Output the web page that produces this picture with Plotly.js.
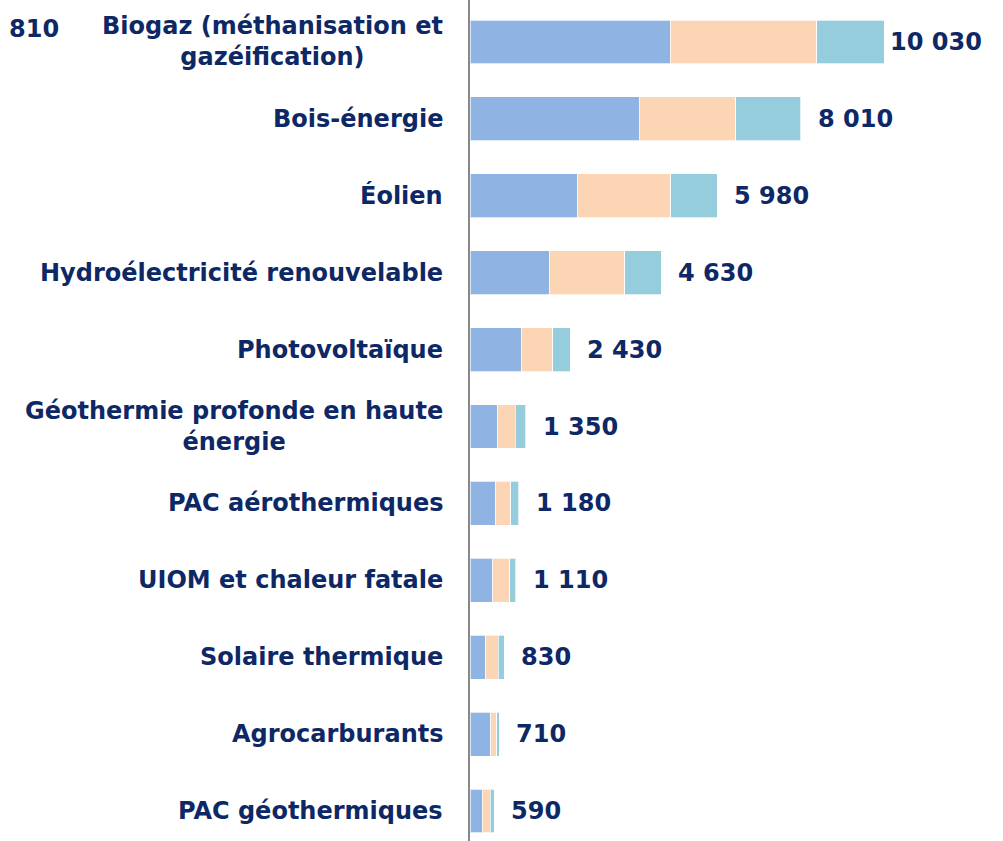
<!DOCTYPE html>
<html>
<head>
<meta charset="utf-8">
<script src="https://cdn.plot.ly/plotly-3.0.1.min.js"></script>
<style>html,body{margin:0;padding:0;background:#fff;}#chart{width:1003px;height:841px;}</style>
</head>
<body>
<div id="chart"></div>
<script>
// Categories from bottom to top
const categories = [
  "PAC géothermiques",
  "Agrocarburants",
  "Solaire thermique",
  "UIOM et chaleur fatale",
  "PAC aérothermiques",
  "Géothermie profonde en haute<br>énergie",
  "Photovoltaïque",
  "Hydroélectricité renouvelable",
  "Éolien",
  "Bois-énergie",
  "Biogaz (méthanisation et<br>gazéification)"
];
const seriesBlue  = [300, 500, 380, 550, 620, 670, 1250, 1920, 2600, 4100, 4850];
const seriesPeach = [190, 150, 300, 410, 370, 430, 750, 1830, 2260, 2330, 3540];
const seriesTeal  = [100, 60, 150, 150, 190, 250, 430, 880, 1120, 1580, 1640];
const totals      = [590, 710, 830, 1110, 1180, 1350, 2430, 4630, 5980, 8010, 10030];
const strayLabel  = "810";

const navy = "#0e2865";
const fontFam = "DejaVu Sans, Verdana, sans-serif";
const fsize = 24;
const idx = categories.map((c, i) => i);

function fmt(n) {
  return String(n).replace(/\B(?=(\d{3})+(?!\d))/g, " ");
}

const mk = (vals, color) => ({
  type: "bar", orientation: "h", y: idx, x: vals,
  marker: {color: color, line: {color: "rgba(255,255,255,0.7)", width: 1}},
  hoverinfo: "x", showlegend: false
});

const data = [
  mk(seriesBlue, "#8fb4e3"),
  mk(seriesPeach, "#fcd5b5"),
  mk(seriesTeal, "#95cddd")
];

const annotations = [];
categories.forEach((c, i) => {
  annotations.push({
    xref: "paper", yref: "y", x: 0, y: i, xanchor: "right", yanchor: "middle",
    xshift: -25, align: "center", showarrow: false, text: "<b>" + c + "</b>",
    font: {family: fontFam, size: fsize, color: navy}
  });
  annotations.push({
    xref: "x", yref: "y", x: totals[i], y: i, xanchor: "left", yanchor: "middle",
    xshift: i === categories.length - 1 ? 4 : 15, showarrow: false, text: "<b>" + fmt(totals[i]) + "</b>",
    font: {family: fontFam, size: fsize, color: navy}
  });
});
annotations.push({
  xref: "paper", yref: "y", x: 0, y: categories.length - 1, xanchor: "left", yanchor: "middle",
  xshift: -463, yshift: 13, showarrow: false, text: "<b>" + strayLabel + "</b>",
  font: {family: fontFam, size: fsize, color: navy}
});

const layout = {
  width: 1003, height: 841,
  margin: {l: 470, r: 0, t: 0, b: 0, pad: 0},
  barmode: "stack",
  bargap: 0.43,
  paper_bgcolor: "#fff", plot_bgcolor: "#fff",
  xaxis: {range: [0, 12900], showgrid: false, zeroline: false, showticklabels: false, showline: false, fixedrange: true},
  yaxis: {range: [-0.39, 10.546], showgrid: false, zeroline: false, showticklabels: false,
          showline: true, linecolor: "#888888", linewidth: 2, ticks: "", fixedrange: true},
  annotations: annotations,
  font: {family: fontFam, color: navy}
};

Plotly.newPlot("chart", data, layout, {displayModeBar: false, staticPlot: true});
</script>
</body>
</html>
